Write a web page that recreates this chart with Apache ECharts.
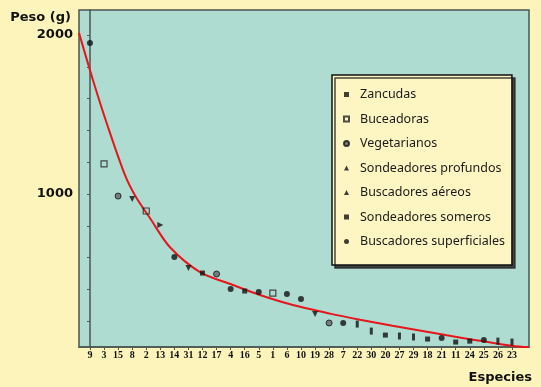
<!DOCTYPE html>
<html>
<head>
<meta charset="utf-8">
<script src="https://cdn.jsdelivr.net/npm/echarts@6/dist/echarts.min.js"></script>
<style>
  html, body { margin: 0; padding: 0; background: #fcf4bb; }
  #chart { width: 541px; height: 387px; }
</style>
</head>
<body>
<div id="chart"></div>
<script>
// Species in the order they appear along the horizontal axis
const species = ['9','3','15','8','2','13','14','31','12','17','4','16','5','1','6','10',
                 '19','28','7','22','30','20','27','29','18','21','11','24','25','26','23'];
// Mean weight of each species (g)
const weights = [1950,1189,987,969,893,805,604,535,503,497,403,390,384,377,371,340,
                 245,189,189,182,138,113,107,101,88,94,69,75,82,75,69];
// Feeding group of each species (index into groupNames)
const groupOf = [6,1,2,3,1,4,6,3,0,2,6,0,6,1,6,6,
                 3,2,6,5,5,0,5,5,0,6,0,0,6,5,5];
const groupNames = ['Zancudas','Buceadoras','Vegetarianos','Sondeadores profundos',
                    'Buscadores aéreos','Sondeadores someros','Buscadores superficiales'];
// Fitted weight curve (position along the species axis, weight in g)
const curveX = [-0.78,0.21,1.21,2.49,3.27,4.26,5.69,7.82,10.16,12.08,14.43,17.06,19.19,21.5,25.37,30.06,31.21];
const curveY = [2013,1717,1440,1119,981,849,665,509,428,365,302,248,210,172,112,45,38];
// Tick marks on the weight axis
const weightTicks = [200,400,600,800,1000,1200,1400,1600,1800,2000];
const weightLabels = [1000,2000];

const markers = [
  { symbol: 'rect', symbolSize: 5, itemStyle: { color: '#111' } },
  { symbol: 'rect', symbolSize: 6, itemStyle: { color: 'rgba(0,0,0,0)', borderColor: '#222', borderWidth: 1.2 } },
  { symbol: 'circle', symbolSize: 6, itemStyle: { color: '#666', borderColor: '#111', borderWidth: 1 } },
  { symbol: 'triangle', symbolSize: 6, symbolRotate: 180, itemStyle: { color: '#111' } },
  { symbol: 'triangle', symbolSize: 6, symbolRotate: -90, itemStyle: { color: '#111' } },
  { symbol: 'rect', symbolSize: [3, 7], itemStyle: { color: '#111' } },
  { symbol: 'circle', symbolSize: 6, itemStyle: { color: '#111' } }
];

const idx = species.map((_, i) => i);
const scatterSeries = groupNames.map((name, g) => Object.assign({
  name: name,
  type: 'scatter',
  data: idx.filter(i => groupOf[i] === g).map(i => [i, weights[i]]),
  z: 3
}, markers[g]));

const chart = echarts.init(document.getElementById('chart'));
chart.setOption({
  backgroundColor: '#fcf4bb',
  animation: false,
  grid: {
    left: 79, top: 10, right: 12, bottom: 40,
    show: true, backgroundColor: '#aedcd0', borderColor: '#4a5550', borderWidth: 1.5
  },
  xAxis: {
    type: 'value',
    min: -0.78, max: 31.21,
    splitLine: { show: false },
    axisLine: { lineStyle: { color: '#4a5550', width: 1.5 } },
    axisTick: { customValues: idx, length: 3, lineStyle: { color: '#555' } },
    axisLabel: {
      customValues: idx,
      formatter: v => species[Math.round(v)],
      margin: 3,
      fontFamily: 'Liberation Serif', fontWeight: 'bold', fontSize: 10, color: '#111'
    }
  },
  yAxis: {
    type: 'value',
    min: 38, max: 2157,
    splitLine: { show: false },
    axisLine: { show: true, lineStyle: { color: '#4a5550', width: 1.5 } },
    axisTick: { customValues: weightTicks, length: 3, lineStyle: { color: '#555' } },
    axisLabel: {
      customValues: weightLabels,
      formatter: v => String(v),
      margin: 6,
      fontFamily: 'DejaVu Sans', fontWeight: 'bold', fontSize: 13, color: '#111'
    }
  },
  legend: {
    data: groupNames,
    orient: 'vertical',
    left: 332, top: 75,
    padding: [13, 7, 17, 11],
    itemGap: 11.5,
    itemWidth: 5, itemHeight: 5,
    backgroundColor: '#fdf6c3',
    borderColor: '#111', borderWidth: 1.5,
    shadowColor: 'rgba(40,40,40,0.85)', shadowOffsetX: 3, shadowOffsetY: 3, shadowBlur: 0,
    textStyle: { fontFamily: 'Noto Sans', fontSize: 12.5, lineHeight: 13, color: '#1a1a1a', padding: [0, 0, 0, 6] }
  },
  graphic: [
    { type: 'text', right: 470, top: 11, style: { text: 'Peso (g)', fontFamily: 'DejaVu Sans', fontWeight: 'bold', fontSize: 13, fill: '#111' } },
    { type: 'text', right: 9, top: 371, style: { text: 'Especies', fontFamily: 'DejaVu Sans', fontWeight: 'bold', fontSize: 13, fill: '#111' } }
  ],
  series: scatterSeries.concat([{
    name: 'Ajuste',
    type: 'line',
    data: curveX.map((x, i) => [x, curveY[i]]),
    smooth: 0.3,
    showSymbol: false,
    symbol: 'none',
    lineStyle: { color: '#e5161c', width: 2 },
    z: 2
  }])
});
</script>
</body>
</html>
